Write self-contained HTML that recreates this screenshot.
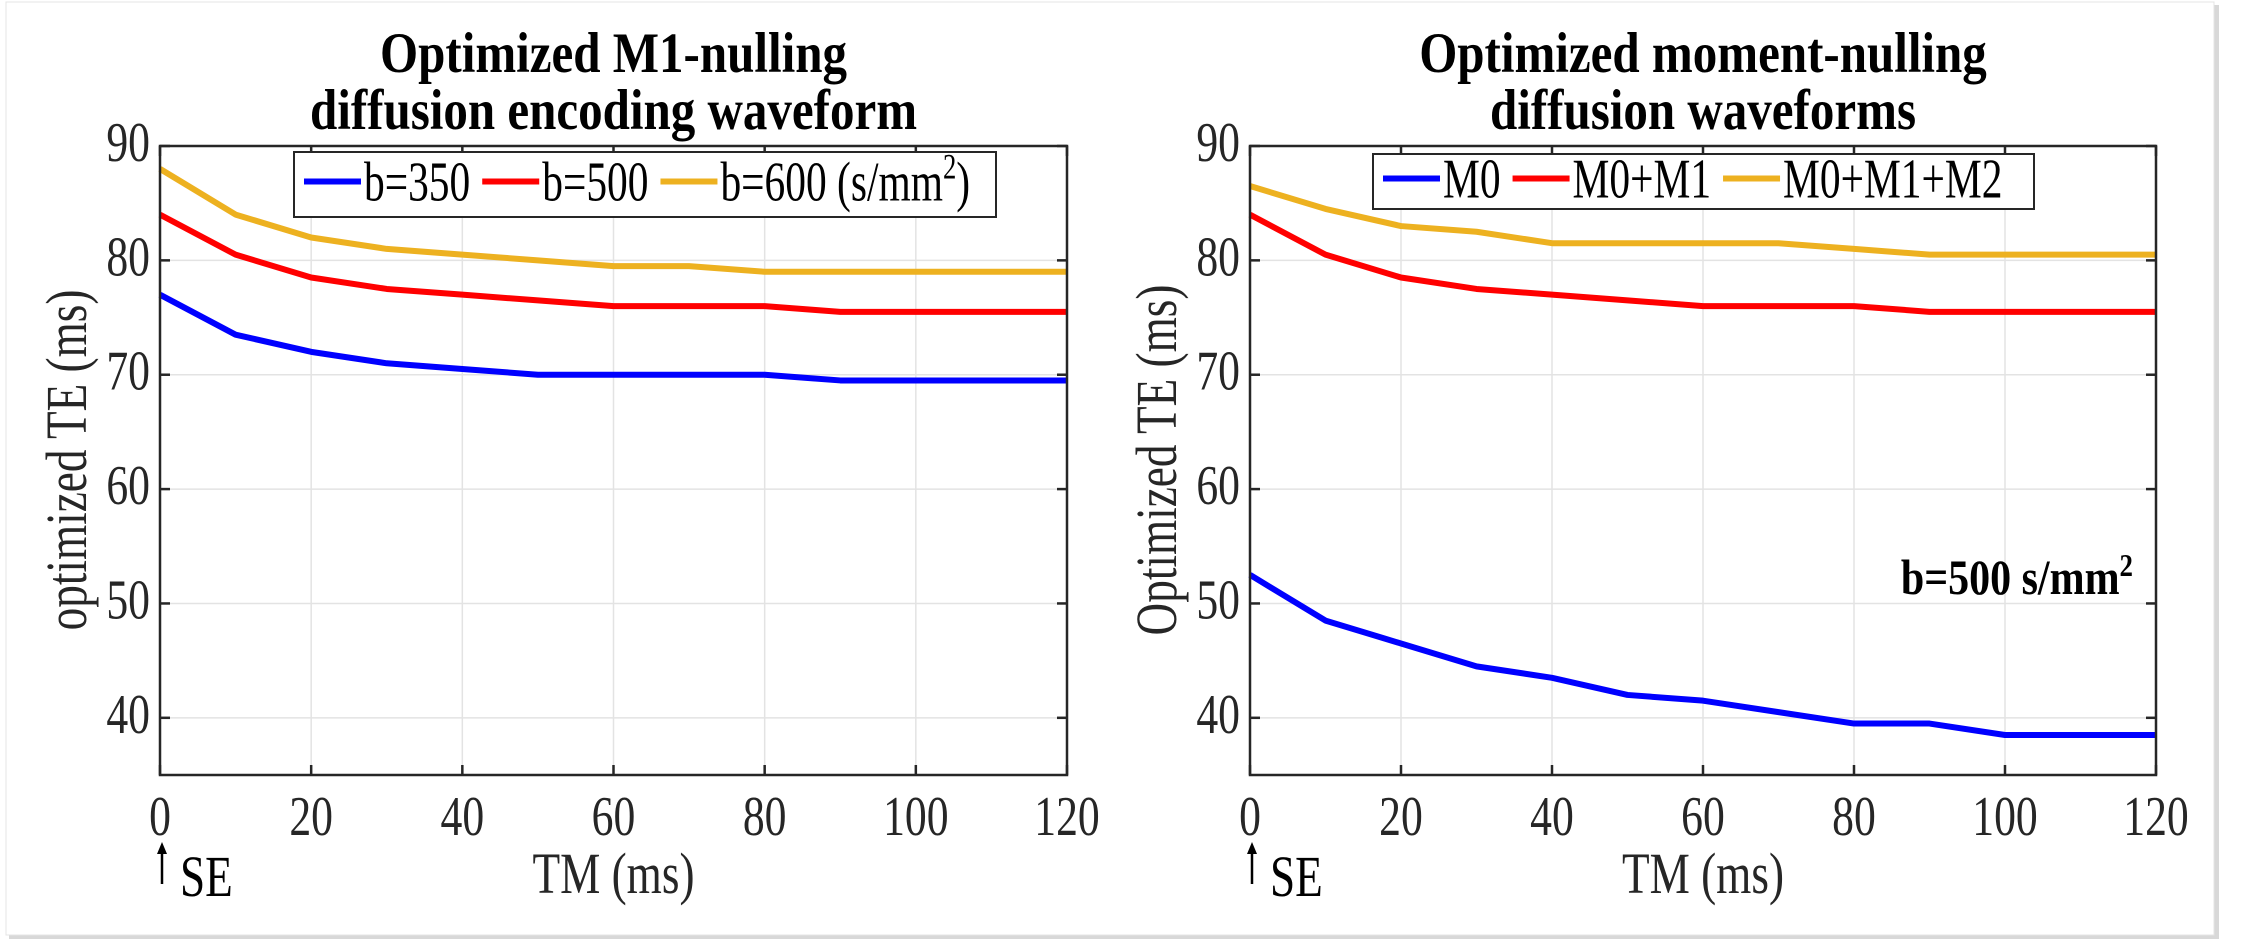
<!DOCTYPE html>
<html><head><meta charset="utf-8"><style>
html,body{margin:0;padding:0;background:#fff;}
svg{display:block;font-family:"Liberation Serif",serif;}
</style></head><body>
<svg id="fig" width="2268" height="945" viewBox="0 0 2268 945">
<rect x="9" y="5" width="2210" height="934" fill="#d8d8d8"/>
<rect x="6" y="2" width="2208" height="933" fill="#fff" stroke="#e4e4e4"/>
</svg>
<script>
const xTicks=[0,20,40,60,80,100,120];
const yTicks=[40,50,60,70,80,90];
const tmValues=[0,10,20,30,40,50,60,70,80,90,100,110,120];
const b350=[77,73.5,72,71,70.5,70,70,70,70,69.5,69.5,69.5,69.5];
const b500=[84,80.5,78.5,77.5,77,76.5,76,76,76,75.5,75.5,75.5,75.5];
const b600=[88,84,82,81,80.5,80,79.5,79.5,79,79,79,79,79];
const m0=[52.5,48.5,46.5,44.5,43.5,42,41.5,40.5,39.5,39.5,38.5,38.5,38.5];
const m01=[84,80.5,78.5,77.5,77,76.5,76,76,76,75.5,75.5,75.5,75.5];
const m012=[86.5,84.5,83,82.5,81.5,81.5,81.5,81.5,81,80.5,80.5,80.5,80.5];
const leftLabels=["b=350","b=500","b=600 (s/mm"];
const rightLabels=["M0","M0+M1","M0+M1+M2"];
const COLS=["#0000ff","#ff0000","#edb120"];
const NS="http://www.w3.org/2000/svg";
const svg=document.getElementById('fig');
function mk(tag,attrs,parent,text){const e=document.createElementNS(NS,tag);for(const k in attrs)e.setAttribute(k,attrs[k]);if(text!==undefined)e.textContent=text;(parent||svg).appendChild(e);return e;}
function T(parent,x,y,size,sx,anchor,text,extra,rot){
  const tr='translate('+x+' '+y+')'+(rot?' rotate('+rot+')':'')+' scale('+sx+' 1)';
  const a={x:0,y:0,'font-size':size,'text-anchor':anchor,fill:'#262626',transform:tr};
  for(const k in (extra||{}))a[k]=extra[k];
  return mk('text',a,parent,text);
}
const SX=0.78;
function panel(cfg){
  const g=mk('g',{});
  
  
  const L=cfg.x0,R=cfg.x1,TT=146,B=775;
  const xs=v=>L+(v-0)/120*(R-L);
  const ys=v=>B-(v-35)/55*(B-TT);
  xTicks.forEach(t=>{const l=mk('line',{x1:xs(t),x2:xs(t),y1:TT,y2:B,stroke:'#e3e3e3','stroke-width':1.5},g);
    });
  yTicks.forEach(t=>{const l=mk('line',{x1:L,x2:R,y1:ys(t),y2:ys(t),stroke:'#e3e3e3','stroke-width':1.5},g);
    });
  cfg.series.forEach((s,i)=>{
    const p=mk('polyline',{points:tmValues.map((t,j)=>xs(t)+','+ys(s[j])).join(' '),fill:'none',stroke:COLS[i],'stroke-width':6,'stroke-linejoin':'round'},g);
    
    
  });
  const bx=mk('rect',{x:L,y:TT,width:R-L,height:B-TT,fill:'none',stroke:'#262626','stroke-width':2.5},g);
  
  xTicks.forEach(t=>{
    mk('line',{x1:xs(t),x2:xs(t),y1:B,y2:B-10,stroke:'#262626','stroke-width':2.5},g);
    mk('line',{x1:xs(t),x2:xs(t),y1:TT,y2:TT+10,stroke:'#262626','stroke-width':2.5},g);
    const tx=T(g,xs(t),835,56,SX,'middle',String(t));
    
  });
  yTicks.forEach(t=>{
    mk('line',{x1:L,x2:L+10,y1:ys(t),y2:ys(t),stroke:'#262626','stroke-width':2.5},g);
    mk('line',{x1:R,x2:R-10,y1:ys(t),y2:ys(t),stroke:'#262626','stroke-width':2.5},g);
    const tx=T(g,L-10,ys(t)+15,56,SX,'end',String(t));
    
  });
  const cx=(L+R)/2;
  cfg.title.forEach((line,i)=>{const t=T(g,cx,72+i*57,57,0.86,'middle',line,{'font-weight':'bold',fill:'#000'});
    });
  const xl=T(g,cx,893,58,SX,'middle','TM (ms)');
  
  const yl=T(g,cfg.ylx,460,58,SX,'middle',cfg.ylabel,{},-90);
  
  // rotated text: scale should apply vertically in screen space -> use scale on y after rotation handled by transform order
  const ar=mk('g',{},g);
  mk('line',{x1:L+2,x2:L+2,y1:852,y2:884,stroke:'#000','stroke-width':2.5},ar);
  mk('polygon',{points:(L-3)+',854 '+(L+7)+',854 '+(L+2)+',842',fill:'#000'},ar);
  T(ar,L+20,896,58,SX,'start','SE',{fill:'#000'});
  const lg=mk('g',{},g);
  mk('rect',{x:cfg.lg[0],y:cfg.lg[1],width:cfg.lg[2]-cfg.lg[0],height:cfg.lg[3]-cfg.lg[1],fill:'#fff',stroke:'#262626','stroke-width':2},lg);
  let x=cfg.lg[0]+10;const yy=(cfg.lg[1]+cfg.lg[3])/2;
  const LS=0.74;
  cfg.labels.forEach((lab,i)=>{
    const e=mk('g',{},lg);
    mk('line',{x1:x,x2:x+57,y1:yy-3,y2:yy-3,stroke:COLS[i],'stroke-width':6},e);
    const t=T(e,x+60,yy+16,56,LS,'start',lab,{fill:'#000'});
    let w=t.getComputedTextLength()*LS;
    if(cfg.sup&&i===2){const s=T(e,x+60+w,yy-6,36,LS,'start','2',{fill:'#000'});w+=s.getComputedTextLength()*LS;
      const c=T(e,x+60+w,yy+16,56,LS,'start',')',{fill:'#000'});w+=c.getComputedTextLength()*LS;}
    x+=60+w+cfg.gap;
  });
  return {xs,ys,g};
}
panel({name:'left-panel',x0:160,x1:1067,series:[b350,b500,b600],keys:['b350','b500','b600'],labels:leftLabels,sup:true,
  title:['Optimized M1-nulling','diffusion encoding waveform'],ylabel:'optimized TE (ms)',ylx:86,lg:[294,152,996,217],gap:12});
const rp=panel({name:'right-panel',x0:1250,x1:2156,series:[m0,m01,m012],keys:['m0','m0-m1','m0-m1-m2'],labels:rightLabels,sup:false,
  title:['Optimized moment-nulling','diffusion waveforms'],ylabel:'Optimized TE (ms)',ylx:1176,lg:[1373,154,2034,209],gap:12});
// fix rotated labels: compress along screen-y instead of text-x is equivalent to scale on text's own x, which after rotation is screen-y; reference is taller text (screen-x) so keep.
const an=T(rp.g,2133,594,50,0.84,'end','',{'font-weight':'bold',fill:'#000'});


an.innerHTML='b=500 s/mm<tspan dy="-18" font-size="32">2</tspan>';
</script>
</body></html>
